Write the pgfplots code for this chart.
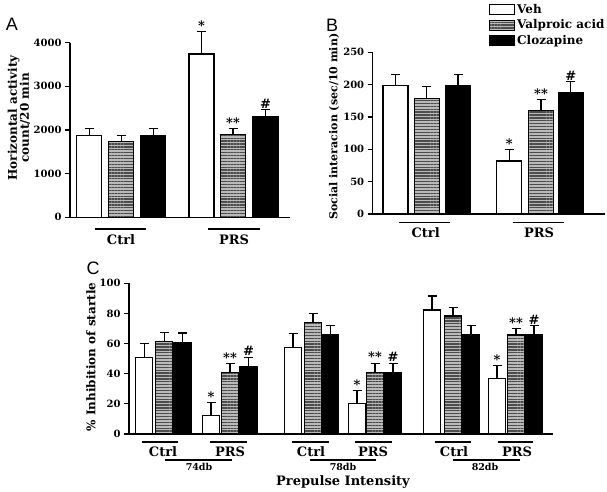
\documentclass[border=0pt]{standalone}
\usepackage{fontspec}
\setmainfont{DejaVu Serif}
\newfontfamily\panelfont{Liberation Sans}
\usepackage{pgfplots}
\pgfplotsset{compat=1.18}
\usetikzlibrary{patterns.meta}

\newcommand{\fs}[1]{\fontsize{#1}{#1}\selectfont\bfseries}

\pgfplotsset{
  panel/.style={
    scale only axis, axis lines=left,
    axis line style={-, line width=1.1bp, black},
    xtick=\empty, ymin=0, enlargelimits=false, clip=false,
    tick align=outside, major tick length=5bp,
    tick style={line width=1.1bp, black},
    /pgf/number format/assume math mode=true,
    /pgf/number format/1000 sep={},
    tick label style={font=\fs{10bp}},
    every axis y label/.style={rotate=90, anchor=center, align=center, font=\fs{12bp}},
    legend image code/.code={\draw[##1,/tikz/.cd,line width=1.1bp] (0bp,-5bp) rectangle (25bp,5bp);},
  },
  errs/.style={error bars/.cd, y dir=plus, y explicit,
    error bar style={line width=1.1bp, black},
    error mark options={rotate=90, mark size=4.5bp, line width=1.1bp, black}},
  vehbar/.style={ybar, bar width=#1, bar shift=0pt, draw=black, line width=1.1bp, fill=white},
  valbar/.style={ybar, bar width=#1, bar shift=0pt, draw=black, line width=1.1bp, fill=gray!55,
    postaction={pattern={Lines[angle=0, distance=2.9bp, line width=1.3bp]}, pattern color=black!70}},
  clzbar/.style={ybar, bar width=#1, bar shift=0pt, draw=black, line width=1.1bp, fill=black},
  annot/.style={draw=none, mark=none, forget plot, nodes near coords, point meta=explicit symbolic,
    nodes near coords style={anchor=south, inner sep=1bp, font=\fs{13bp}}},
}

\begin{document}
\begin{tikzpicture}[x=1bp, y=1bp]
\path[use as bounding box] (0,0) rectangle (607,492);

% ---------------- Panel A ----------------
\begin{axis}[panel, at={(70bp,274.7bp)}, anchor=south west,
  width=220bp, height=174.6bp, xmin=70, xmax=290, ymax=4000,
  ytick={0,1000,2000,3000,4000},
  ylabel={Horizontal activity\\count/20 min},
  ylabel style={at={(axis description cs:-0.232,0.569)}}]
\addplot[vehbar=25bp, errs] coordinates {(89.2,1880) +- (0,155) (201.5,3740) +- (0,510)};
\addplot[valbar=25bp, errs] coordinates {(121.2,1740) +- (0,130) (233,1890) +- (0,140)};
\addplot[clzbar=25bp, errs] coordinates {(153.3,1880) +- (0,150) (265.5,2310) +- (0,155)};
\addplot[annot] coordinates {(201.5,4250) [*] (233,2030) [**] (265.5,2465) [\#]};
\end{axis}

% ---------------- Panel B ----------------
\begin{axis}[panel, at={(372.7bp,278bp)}, anchor=south west,
  width=232.3bp, height=161.7bp, xmin=372.7, xmax=605, ymax=250,
  ytick={0,50,100,150,200,250},
  ylabel={Social interacion (sec/10 min)},
  ylabel style={at={(axis description cs:-0.166,0.54)}, font=\fs{11bp}},
  legend style={at={(axis description cs:0.5,1.311)}, anchor=north west,
    draw=none, fill=none, inner sep=0pt, row sep=1bp,
    font=\fs{12bp}, legend cell align=left,
    nodes={inner sep=2bp},
    /tikz/every even column/.append style={column sep=5bp}}]
\addplot[vehbar=25bp, errs] coordinates {(395.5,198) +- (0,18) (509.2,82) +- (0,18)};
\addplot[valbar=25bp, errs] coordinates {(426.7,179) +- (0,18) (541,160) +- (0,17)};
\addplot[clzbar=25bp, errs] coordinates {(458,198) +- (0,18) (570.7,188) +- (0,17)};
\addplot[annot] coordinates {(509.2,100) [*] (541,177) [**] (570.7,205) [\#]};
\legend{Veh, Valproic acid, Clozapine}
\end{axis}

% ---------------- Panel C ----------------
\begin{axis}[panel, at={(129bp,58bp)}, anchor=south west,
  width=424bp, height=150.7bp, xmin=129, xmax=553, ymax=100,
  ytick={0,20,40,60,80,100},
  ylabel={\% Inhibition of startle},
  ylabel style={at={(axis description cs:-0.0896,0.511)}}]
\addplot[vehbar=17bp, errs] coordinates {(144.2,51) +- (0,9) (211,12) +- (0,9)
  (293,57.5) +- (0,9.3) (357,20) +- (0,9) (432,82.3) +- (0,9.3) (497,37) +- (0,8.3)};
\addplot[valbar=17bp, errs] coordinates {(164.4,61.5) +- (0,6) (230,41) +- (0,5.7)
  (313,74) +- (0,6) (375,41) +- (0,6) (453,78.3) +- (0,5.7) (516,65.7) +- (0,4.3)};
\addplot[clzbar=17bp, errs] coordinates {(182.5,61) +- (0,6) (248.5,45) +- (0,6)
  (330.3,65.7) +- (0,6) (393,41) +- (0,6) (471,65.7) +- (0,6) (534,65.7) +- (0,6)};
\addplot[annot] coordinates {(211,21) [*] (230,46.7) [**] (248.5,51) [\#]
  (357,29) [*] (375,47) [**] (393,47) [\#]
  (497,45.3) [*] (516,70) [**] (534,71.7) [\#]};
\end{axis}

% ---------------- group labels ----------------
\begin{scope}[line width=1.1bp]
% A
\draw (95,263) -- (146,263);  \node[font=\fs{13bp}] at (121,252) {Ctrl};
\draw (208,263) -- (260,263); \node[font=\fs{13bp}] at (234,252) {PRS};
% B
\draw (399,269.3) -- (450,269.3); \node[font=\fs{13bp}] at (425.7,259) {Ctrl};
\draw (513,269.3) -- (564,269.3); \node[font=\fs{13bp}] at (539,259) {PRS};
% C
\draw (142,50) -- (178,50); \node[font=\fs{13bp}] at (163,40) {Ctrl};
\draw (210,50) -- (247,50); \node[font=\fs{13bp}] at (230,40) {PRS};
\draw (165,32) -- (232,32); \node[font=\fs{9.5bp}] at (199,25) {74db};
\draw (292,50) -- (329,50); \node[font=\fs{13bp}] at (311,40) {Ctrl};
\draw (355,50) -- (392,50); \node[font=\fs{13bp}] at (373,40) {PRS};
\draw (310,32) -- (376,32); \node[font=\fs{9.5bp}] at (343,25) {78db};
\draw (435,50) -- (471,50); \node[font=\fs{13bp}] at (454,40) {Ctrl};
\draw (498,50) -- (533,50); \node[font=\fs{13bp}] at (517,40) {PRS};
\draw (453,32) -- (520,32); \node[font=\fs{9.5bp}] at (485,25) {82db};
\node[font=\fs{13bp}] at (343,10) {Prepulse Intensity};
\end{scope}

% panel letters
\node[font=\panelfont\fontsize{18bp}{18bp}\selectfont] at (12,468) {A};
\node[font=\panelfont\fontsize{18bp}{18bp}\selectfont] at (332,467) {B};
\node[font=\panelfont\fontsize{18bp}{18bp}\selectfont] at (93,224) {C};
\end{tikzpicture}
\end{document}
